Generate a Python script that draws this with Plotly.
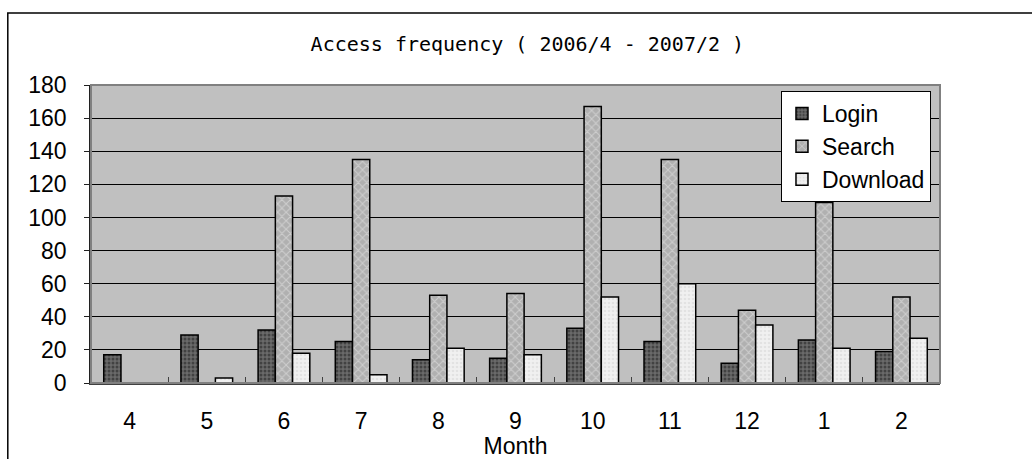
import plotly.graph_objects as go

months = ["4", "5", "6", "7", "8", "9", "10", "11", "12", "1", "2"]
login = [17, 29, 32, 25, 14, 15, 33, 25, 12, 26, 19]
search = [0, 0, 113, 135, 53, 54, 167, 135, 44, 109, 52]
download = [0, 3, 18, 5, 21, 17, 52, 60, 35, 21, 27]

FONT = "Liberation Sans"
TFONT = "DejaVu Sans Mono"

fig = go.Figure()
styles = [
    ("Login", login, dict(shape=".", fgcolor="#1a1a1a", bgcolor="#6a6a6a", size=4, solidity=0.45)),
    ("Search", search, dict(shape="x", fgcolor="#ececec", bgcolor="#b0b0b0", size=6, solidity=0.3)),
    ("Download", download, dict(shape=".", fgcolor="#d4d4d4", bgcolor="#f0f0f0", size=4, solidity=0.35)),
]
for name, vals, pat in styles:
    fig.add_trace(go.Bar(
        x=months, y=vals, name=name, legendgroup=name,
        marker=dict(color=pat["bgcolor"], pattern=pat,
                    line=dict(color="black", width=1.5)),
    ))

fig.update_layout(
    width=1032, height=459,
    margin=dict(l=91, r=92, t=85, b=76, autoexpand=False),
    paper_bgcolor="white", plot_bgcolor="#c0c0c0",
    barmode="group", bargap=0.33, bargroupgap=0,
    font=dict(family=FONT, size=23, color="black"),
    title=dict(text="Access frequency ( 2006/4 - 2007/2 )", x=0.511, xanchor="center",
               y=0.904, yanchor="middle", font=dict(family=TFONT, size=20)),
    legend=dict(x=0.8127, y=0.98, xanchor="left", yanchor="top",
                bgcolor="white", bordercolor="black", borderwidth=1,
                font=dict(family=FONT, size=23), tracegroupgap=0,
                itemwidth=30),
    showlegend=True,
)
fig.update_xaxes(
    type="category", ticks="inside", tickson="boundaries", ticklen=6,
    tickcolor="#404040", showgrid=False, showline=True, linecolor="#404040",
    linewidth=2, mirror=False, automargin=False,
    title=dict(text="Month", standoff=5, font=dict(family=FONT, size=23)),
    tickfont=dict(family=FONT, size=23), ticklabelstandoff=16,
)
fig.update_yaxes(
    range=[0, 180], dtick=20, ticks="outside", ticklen=5, tickcolor="#202020",
    showgrid=True, gridcolor="black", gridwidth=1, automargin=False,
    showline=True, linecolor="#202020", linewidth=1.5, zeroline=False,
    tickfont=dict(family=FONT, size=23), ticklabelstandoff=13,
)
# plot-area border (top/right grey)
fig.add_shape(type="rect", xref="paper", yref="paper", x0=0, x1=1, y0=0, y1=1,
              line=dict(color="#808080", width=2), layer="above")
# outer chart frame
fig.add_shape(type="rect", xref="paper", yref="paper", x0=-0.098, x1=1.2, y0=-0.4, y1=1.2416,
              line=dict(color="black", width=1.5), layer="below")

fig.write_html("out.html")
